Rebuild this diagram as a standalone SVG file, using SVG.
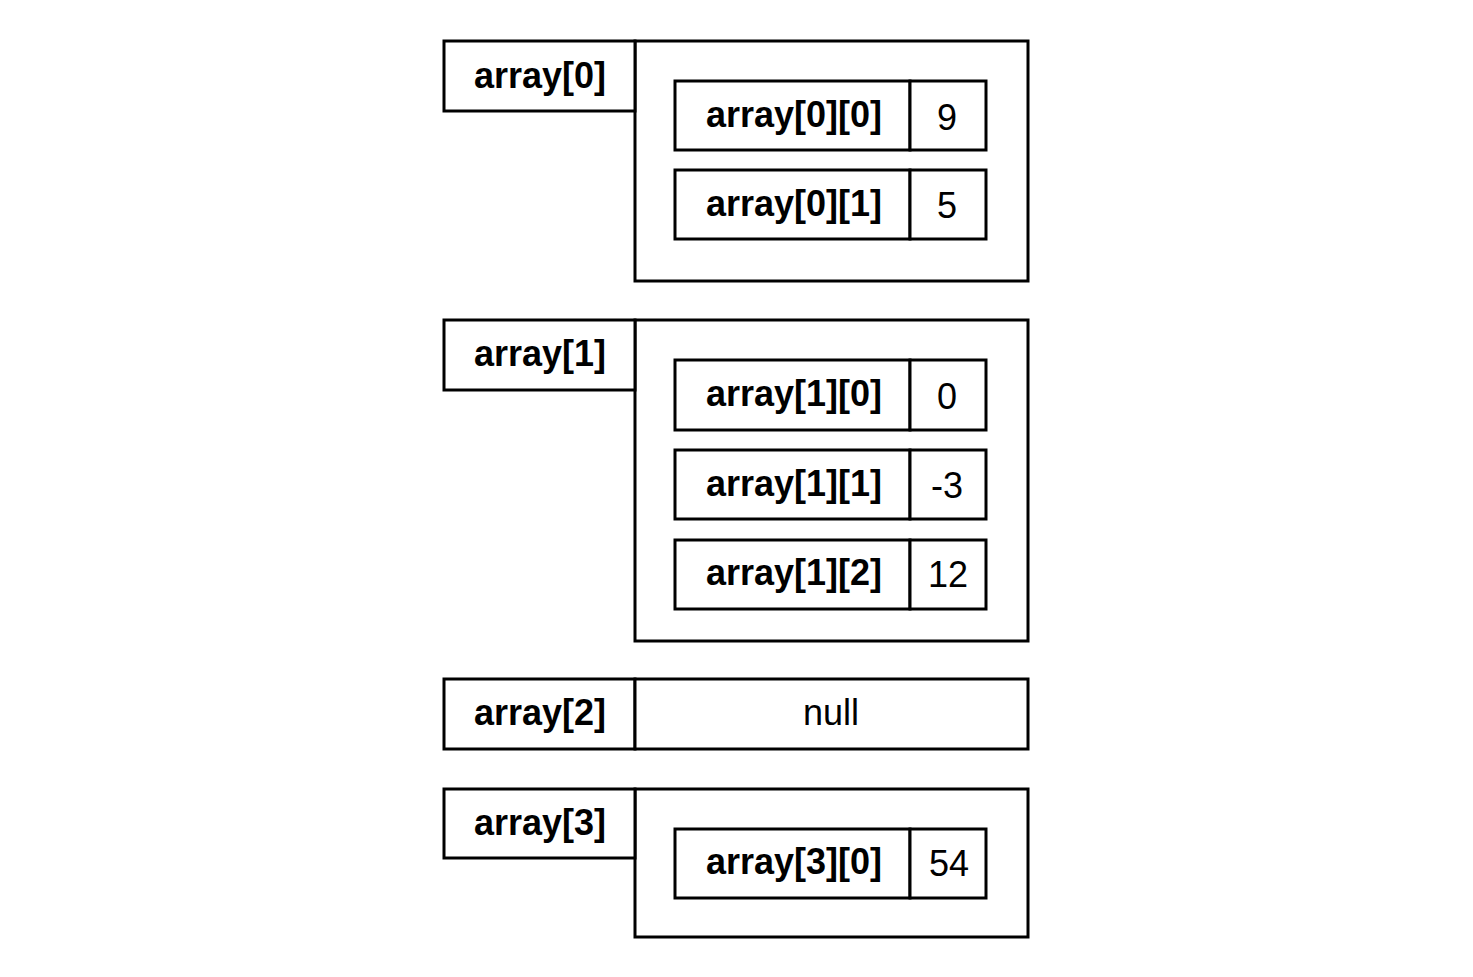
<svg xmlns="http://www.w3.org/2000/svg" width="1473" height="977" viewBox="0 0 1473 977">
<style>
rect{fill:#fff;stroke:#000;stroke-width:3}
.b{font-family:"Liberation Sans",Arial,sans-serif;font-weight:bold;font-size:36px;text-anchor:middle;fill:#000}
.r{font-family:"Liberation Sans",Arial,sans-serif;font-size:36px;text-anchor:middle;fill:#000}
</style>
<rect x="0" y="0" width="1473" height="977" style="stroke:none"/>
<g id="array0">
<rect x="635" y="41" width="393" height="240"/>
<rect x="444" y="41" width="191" height="70"/>
<text class="b" x="540" y="88">array[0]</text>
<g id="array00"><rect x="675" y="81" width="235" height="69"/><rect x="910" y="81" width="76" height="69"/>
<text class="b" x="794" y="127">array[0][0]</text><text class="r" x="947" y="130">9</text></g>
<g id="array01"><rect x="675" y="170" width="235" height="69"/><rect x="910" y="170" width="76" height="69"/>
<text class="b" x="794" y="216">array[0][1]</text><text class="r" x="947" y="218">5</text></g>
</g>
<g id="array1">
<rect x="635" y="320" width="393" height="321"/>
<rect x="444" y="320" width="191" height="70"/>
<text class="b" x="540" y="366">array[1]</text>
<g id="array10"><rect x="675" y="360" width="235" height="70"/><rect x="910" y="360" width="76" height="70"/>
<text class="b" x="794" y="406">array[1][0]</text><text class="r" x="947" y="409">0</text></g>
<g id="array11"><rect x="675" y="450" width="235" height="69"/><rect x="910" y="450" width="76" height="69"/>
<text class="b" x="794" y="496">array[1][1]</text><text class="r" x="947" y="498">-3</text></g>
<g id="array12"><rect x="675" y="540" width="235" height="69"/><rect x="910" y="540" width="76" height="69"/>
<text class="b" x="794" y="585">array[1][2]</text><text class="r" x="948" y="587">12</text></g>
</g>
<g id="array2">
<rect x="444" y="679" width="191" height="70"/>
<rect x="635" y="679" width="393" height="70"/>
<text class="b" x="540" y="725">array[2]</text>
<text class="r" x="831" y="725">null</text>
</g>
<g id="array3">
<rect x="635" y="789" width="393" height="148"/>
<rect x="444" y="789" width="191" height="69"/>
<text class="b" x="540" y="835">array[3]</text>
<g id="array30"><rect x="675" y="829" width="235" height="69"/><rect x="910" y="829" width="76" height="69"/>
<text class="b" x="794" y="874">array[3][0]</text><text class="r" x="949" y="876">54</text></g>
</g>
<g id="connectors"></g>
</svg>
